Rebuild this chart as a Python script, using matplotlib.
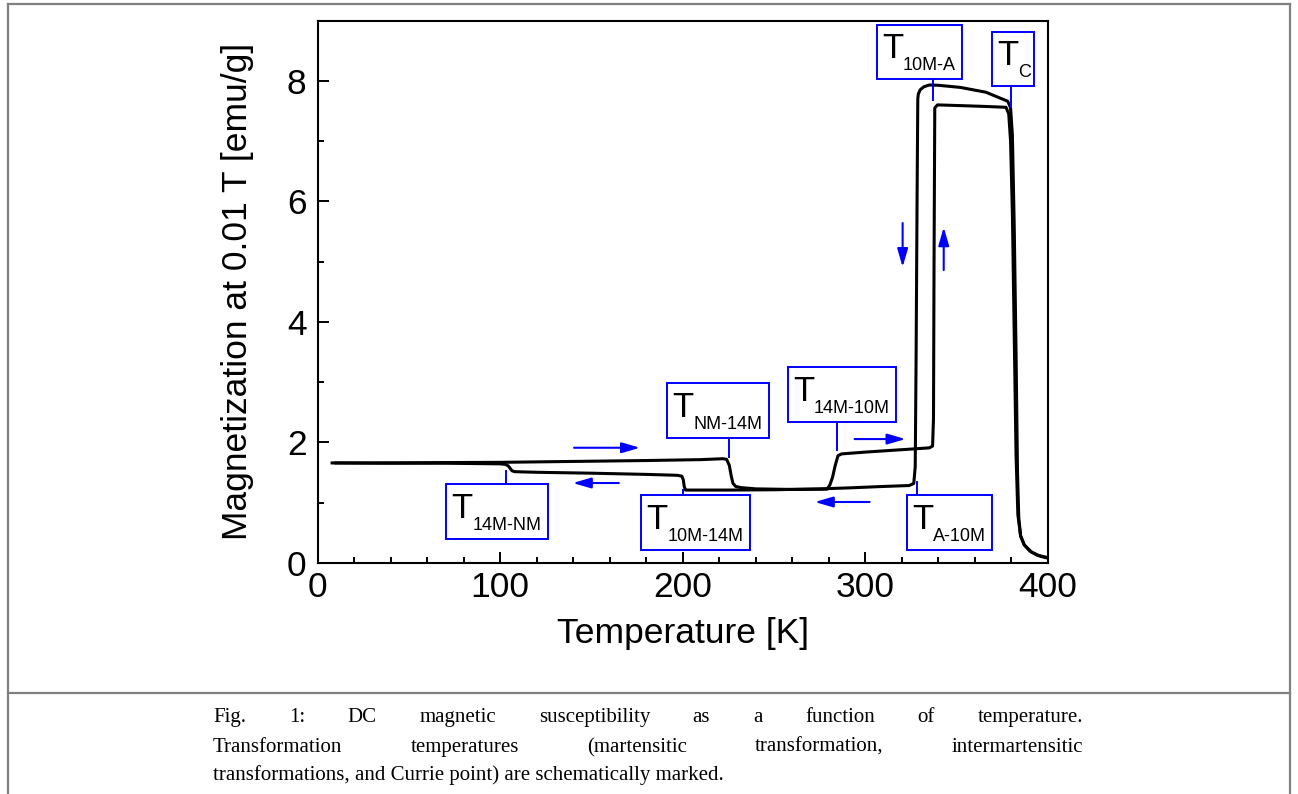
# DC magnetisation vs temperature, heating / cooling loop with marked transition temps
import numpy as np
import matplotlib
matplotlib.use("Agg")
import matplotlib.pyplot as plt
from matplotlib.patches import Rectangle
from matplotlib.lines import Line2D
from matplotlib.ticker import MultipleLocator

plt.rcParams['font.family'] = ['Liberation Sans', 'DejaVu Sans']

# heating branch
heat_T = [8, 30, 60, 100, 140, 180, 210, 222, 224, 225.5, 226.5, 227.5, 229, 232, 240,
          260, 279, 280.5, 282, 283.5, 285, 287, 300, 320, 335, 336.8, 337.3, 337.6,
          338.0, 339.5, 350, 365, 377, 378.5, 379.5, 380.5, 381.5, 382.5, 383.5, 385,
          387, 390, 394, 400]
heat_M = [1.66, 1.66, 1.665, 1.67, 1.685, 1.70, 1.715, 1.73, 1.72, 1.62, 1.45, 1.32,
          1.27, 1.25, 1.23, 1.22, 1.225, 1.29, 1.42, 1.62, 1.78, 1.81, 1.84, 1.88, 1.91,
          1.94, 2.4, 5.0, 7.55, 7.6, 7.59, 7.575, 7.56, 7.45, 7.0, 5.8, 3.8, 1.8, 0.8,
          0.45, 0.3, 0.2, 0.13, 0.09]

# cooling branch
cool_T = [400, 396, 391, 387, 385, 384, 383.3, 382.5, 381.5, 380.5, 379.5, 378, 374,
          366, 352, 340, 335, 332, 330, 329, 328.7, 328.3, 327.8, 327.3, 326.5, 324,
          310, 290, 275, 250, 225, 201.5, 200.8, 200.3, 199.5, 197, 180, 150, 120, 108,
          106.5, 105.5, 104.5, 103, 100, 70, 40, 10]
cool_M = [0.08, 0.11, 0.18, 0.3, 0.45, 0.75, 1.5, 3.5, 5.6, 7.1, 7.55, 7.66, 7.71,
          7.81, 7.89, 7.925, 7.93, 7.9, 7.85, 7.78, 7.7, 6.0, 3.5, 1.6, 1.32, 1.285,
          1.27, 1.245, 1.23, 1.215, 1.21, 1.21, 1.27, 1.38, 1.44, 1.455, 1.47, 1.49,
          1.505, 1.515, 1.53, 1.57, 1.61, 1.635, 1.645, 1.655, 1.655, 1.66]

# marked temperatures: label, box (T0, T1, M0, M1), leader (T, M_from, M_to)
labels = ["10M-A", "C", "NM-14M", "14M-NM", "10M-14M", "14M-10M", "A-10M"]
boxes = [(306.2, 352.7, 8.03, 8.92),
         (369.1, 392.1, 7.91, 8.81),
         (191.2, 247.1, 2.073, 2.985),
         (70.3, 126.1, 0.40, 1.31),
         (177.0, 236.7, 0.216, 1.128),
         (257.4, 316.6, 2.34, 3.25),
         (322.6, 369.1, 0.216, 1.128)]
leaders = [(336.8, 8.03, 7.68),
           (380.0, 7.91, 7.56),
           (225.2, 2.073, 1.758),
           (103.1, 1.31, 1.526),
           (200.0, 1.128, 1.21),
           (284.3, 2.34, 1.874),
           (328.0, 1.128, 1.343)]

# direction arrows: (T_start, M_start, T_end, M_end)
arrows = [(140.5, 1.912, 176.6, 1.912),
          (165.0, 1.327, 139.8, 1.327),
          (294.1, 2.056, 322.0, 2.056),
          (302.3, 1.012, 272.3, 1.012),
          (320.4, 5.64, 320.4, 4.91),
          (342.9, 4.86, 342.9, 5.57)]

caption = ["Fig. 1: DC magnetic susceptibility as a function of temperature.",
           "Transformation temperatures (martensitic transformation, intermartensitic",
           "transformations, and Currie point) are schematically marked."]

W, H = 1298, 794
fig = plt.figure(figsize=(W / 100, H / 100), dpi=100)
ax = fig.add_axes([317.5 / W, 1 - 563 / H, 730.5 / W, 542.5 / H])

ax.plot(heat_T, heat_M, color='black', lw=2.2, solid_joinstyle='round', zorder=3)
ax.plot(cool_T, cool_M, color='black', lw=2.2, solid_joinstyle='round', zorder=3)

blue = '#0000ff'
for lab, (t0, t1, m0, m1), (lt, lm0, lm1) in zip(labels, boxes, leaders):
    ax.add_patch(Rectangle((t0, m0), t1 - t0, m1 - m0, facecolor='white',
                           edgecolor=blue, lw=1.4, zorder=4))
    ax.plot([lt, lt], [lm0, lm1], color=blue, lw=1.4, zorder=4)
    ax.annotate("T", xy=(t0, m0), xytext=(4, 15), textcoords='offset points',
                fontsize=25, ha='left', va='baseline', zorder=5)
    ax.annotate(lab, xy=(t0, m0), xytext=(19, 6.5), textcoords='offset points',
                fontsize=13, ha='left', va='baseline', zorder=5)

for t0, m0, t1, m1 in arrows:
    ax.annotate("", xy=(t1, m1), xytext=(t0, m0),
                arrowprops=dict(arrowstyle='-|>,head_length=1.1,head_width=0.32',
                                mutation_scale=10, color=blue, lw=1.5,
                                shrinkA=0, shrinkB=0))

ax.set_xlim(0, 400)
ax.set_ylim(0, 9)
ax.xaxis.set_major_locator(MultipleLocator(100))
ax.xaxis.set_minor_locator(MultipleLocator(20))
ax.yaxis.set_major_locator(MultipleLocator(2))
ax.yaxis.set_minor_locator(MultipleLocator(1))
ax.tick_params(which='both', direction='in', width=1.4, labelsize=25.5)
ax.tick_params(which='major', length=8)
ax.tick_params(which='minor', length=4.5)
ax.tick_params(axis='x', which='major', pad=6)
ax.tick_params(axis='y', which='major', pad=8)
for s in ax.spines.values():
    s.set_linewidth(1.5)

ax.set_xlabel("Temperature [K]", fontsize=25.5, va='center')
ax.xaxis.set_label_coords(0.5, -0.130)
ax.set_ylabel("Magnetization at 0.01 T [emu/g]", fontsize=25.5, va='center')
ax.yaxis.set_label_coords(-0.109, 0.5)

# grey page frame
grey = '#808080'
fx = lambda x: x / W
fy = lambda y: 1 - y / H
for xs, ys in [([8, 8], [4, H]), ([8, 1290], [4, 4]), ([1290, 1290], [4, H]),
               ([8, 1290], [693, 693])]:
    fig.add_artist(Line2D([fx(v) for v in xs], [fy(v) for v in ys], color=grey,
                          lw=1.6, transform=fig.transFigure))

# justified caption
renderer = fig.canvas.get_renderer()
left, right = 213, 1083
baselines = [722, 752, 780]
cap_kw = dict(family=['Liberation Serif', 'DejaVu Serif'], fontsize=15,
              va='baseline', ha='left', transform=fig.transFigure)
for i, (line, yb) in enumerate(zip(caption, baselines)):
    if i == len(caption) - 1:
        fig.text(fx(left), fy(yb), line, **cap_kw)
        continue
    words = line.split()
    txts = [fig.text(0, fy(yb), w, **cap_kw) for w in words]
    widths = [t.get_window_extent(renderer).width for t in txts]
    gap = (right - left - sum(widths)) / (len(words) - 1)
    x = left
    for t, w in zip(txts, widths):
        t.set_x(fx(x))
        x += w + gap

fig.savefig("out.png", dpi=100)
